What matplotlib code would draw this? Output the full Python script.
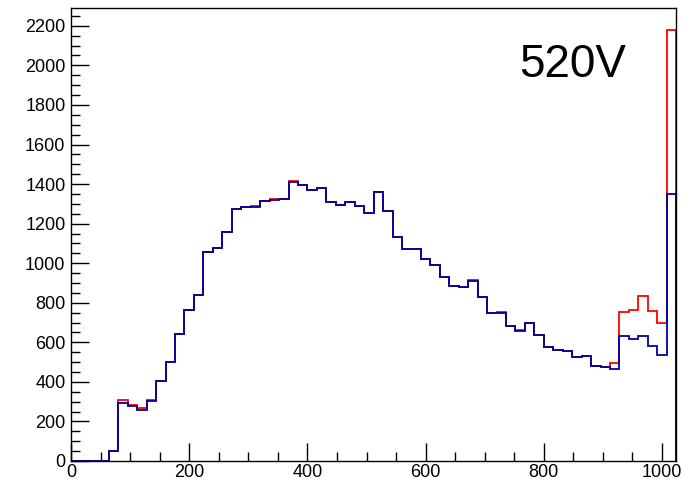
import numpy as np
import matplotlib
matplotlib.use("Agg")
import matplotlib.pyplot as plt
from matplotlib.ticker import MultipleLocator

plt.rcParams["font.family"] = ["Liberation Sans", "DejaVu Sans"]

# 64 bins of width 16 from 0 to 1024
bin_edges = np.arange(0, 1024 + 16, 16)

counts_red = [
    0, 0, 0, 0, 50, 310, 285, 269, 310, 403, 499, 644, 762, 841, 1056, 1075,
    1157, 1275, 1284, 1290, 1312, 1322, 1324, 1416, 1395, 1368, 1378, 1310, 1292, 1307, 1287, 1253,
    1361, 1262, 1132, 1070, 1072, 1023, 991, 932, 883, 880, 913, 827, 748, 753, 684, 662,
    698, 637, 578, 561, 554, 524, 530, 479, 474, 496, 751, 765, 834, 760, 698, 2179,
]
counts_blue = [
    0, 0, 0, 0, 50, 294, 280, 257, 304, 403, 499, 644, 762, 841, 1056, 1075,
    1157, 1275, 1282, 1285, 1312, 1320, 1322, 1412, 1395, 1368, 1378, 1310, 1292, 1307, 1287, 1253,
    1361, 1262, 1132, 1070, 1072, 1023, 991, 932, 883, 880, 908, 827, 748, 748, 684, 659,
    698, 637, 578, 561, 554, 524, 530, 479, 474, 466, 630, 619, 630, 583, 538, 1351,
]
label = "520V"

fig = plt.figure(figsize=(6.92, 4.8), dpi=100)
ax = fig.add_axes([0.1026, 0.0396, 0.8746, 0.9437])

ax.stairs(counts_red, bin_edges, color="#ff0000", linewidth=1.3, baseline=0)
ax.stairs(counts_blue, bin_edges, color="#0000a0", linewidth=1.3, baseline=0)

ax.set_xlim(0, 1024)
ax.set_ylim(0, 2290)

ax.xaxis.set_major_locator(MultipleLocator(200))
ax.xaxis.set_minor_locator(MultipleLocator(50))
ax.yaxis.set_major_locator(MultipleLocator(200))
ax.yaxis.set_minor_locator(MultipleLocator(50))

ax.tick_params(which="both", direction="in", top=False, right=False,
               labelsize=13, width=1, color="black")
ax.tick_params(which="major", length=13)
ax.tick_params(which="minor", length=6.5)
ax.tick_params(axis="x", pad=2)
ax.tick_params(axis="y", pad=4)

for s in ax.spines.values():
    s.set_linewidth(1)
    s.set_color("black")

ax.text(0.74, 0.848, label, transform=ax.transAxes, fontsize=33,
        ha="left", va="baseline", color="black")

fig.savefig("out.png", dpi=100)
